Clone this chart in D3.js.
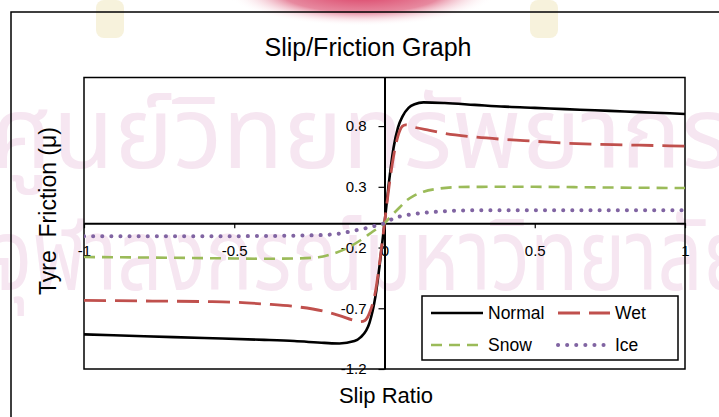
<!DOCTYPE html>
<html>
<head>
<meta charset="utf-8">
<script src="https://cdn.jsdelivr.net/npm/d3@7"></script>
<style>
  body { margin: 0; background: #fff; }
  text { font-family: "Liberation Sans", Arial, sans-serif; }
</style>
</head>
<body>
<div id="chart"></div>
<script>
// series data (slip ratio -> friction coefficient)
const normalSlip = [-1, -0.8, -0.6, -0.4, -0.3, -0.2, -0.15, -0.1, -0.08, -0.05, -0.03, -0.015, 0,
  0.015, 0.03, 0.045, 0.06, 0.08, 0.1, 0.13, 0.2, 0.3, 0.4, 0.5, 0.6, 0.7, 0.8, 0.9, 1];
const normalMu = [-0.915, -0.93, -0.945, -0.96, -0.97, -0.985, -0.99, -0.97, -0.94, -0.82, -0.6, -0.32, 0,
  0.34, 0.62, 0.79, 0.88, 0.95, 0.98, 0.995, 0.99, 0.975, 0.96, 0.95, 0.94, 0.93, 0.92, 0.91, 0.9];

const wetSlip = [-1, -0.8, -0.6, -0.5, -0.4, -0.3, -0.2, -0.15, -0.1, -0.08, -0.065, -0.05, -0.03, -0.015, 0,
  0.015, 0.03, 0.045, 0.06, 0.07, 0.1, 0.15, 0.2, 0.3, 0.4, 0.5, 0.6, 0.7, 0.8, 0.9, 1];
const wetMu = [-0.635, -0.64, -0.645, -0.65, -0.665, -0.685, -0.725, -0.76, -0.8, -0.81, -0.8, -0.74, -0.56, -0.3, 0,
  0.3, 0.55, 0.72, 0.8, 0.81, 0.79, 0.765, 0.74, 0.71, 0.69, 0.675, 0.66, 0.65, 0.645, 0.64, 0.635];

const snowSlip = [-1, -0.8, -0.6, -0.5, -0.4, -0.3, -0.22, -0.17, -0.12, -0.08, -0.04, 0,
  0.03, 0.05, 0.075, 0.1, 0.13, 0.18, 0.25, 0.35, 0.5, 0.7, 1];
const snowMu = [-0.278, -0.282, -0.287, -0.29, -0.292, -0.29, -0.28, -0.25, -0.2, -0.14, -0.07, 0,
  0.08, 0.13, 0.19, 0.23, 0.26, 0.285, 0.298, 0.3, 0.3, 0.295, 0.29];

const iceSlip = [-1, -0.6, -0.4, -0.25, -0.19, -0.15, -0.1, -0.06, -0.03, 0,
  0.03, 0.07, 0.13, 0.19, 0.25, 0.4, 0.7, 1];
const iceMu = [-0.107, -0.107, -0.105, -0.1, -0.095, -0.085, -0.06, -0.04, -0.02, 0,
  0.04, 0.065, 0.085, 0.098, 0.105, 0.108, 0.108, 0.107];

const seriesNames = ["Normal", "Wet", "Snow", "Ice"];
const xTicks = [-1, -0.5, 0, 0.5, 1];
const yTicks = [-1.2, -0.7, -0.2, 0.3, 0.8];

const W = 719, H = 417;
const svg = d3.select("#chart").append("svg")
  .attr("width", W)
  .attr("height", H);

svg.append("rect").attr("width", W).attr("height", H).attr("fill", "#fff");

// scanned page background: emblem at the top and a faint watermark
const defs = svg.append("defs");
const grad = defs.append("radialGradient").attr("id", "emblem");
grad.append("stop").attr("offset", "0%").attr("stop-color", "#d9385f");
grad.append("stop").attr("offset", "60%").attr("stop-color", "#e7899f");
grad.append("stop").attr("offset", "100%").attr("stop-color", "#ffffff").attr("stop-opacity", 0);
svg.append("ellipse")
  .attr("cx", 362).attr("cy", -8).attr("rx", 135).attr("ry", 34)
  .attr("fill", "url(#emblem)");
[[96, 28], [530, 28]].forEach(([px, pw]) => {
  svg.append("rect")
    .attr("x", px).attr("y", 0).attr("width", pw).attr("height", 38)
    .attr("rx", 8).attr("fill", "#f7f2dc");
});

const wm = svg.append("g").attr("fill", "#f6e6f1");
wm.append("text").attr("x", -10).attr("y", 168).attr("font-size", 100)
  .attr("textLength", 740).attr("lengthAdjust", "spacingAndGlyphs")
  .style("font-family", "'Noto Sans Thai', 'Noto Sans', sans-serif")
  .text("ศูนย์วิทยทรัพยากร");
wm.append("text").attr("x", -10).attr("y", 290).attr("font-size", 100)
  .attr("textLength", 760).attr("lengthAdjust", "spacingAndGlyphs")
  .style("font-family", "'Noto Sans Thai', 'Noto Sans', sans-serif")
  .text("จุฬาลงกรณ์มหาวิทยาลัย");

// chart frame
svg.append("rect")
  .attr("x", 11).attr("y", 12)
  .attr("width", 760).attr("height", 460)
  .attr("fill", "none").attr("stroke", "#000").attr("stroke-width", 1.5);

const margin = { top: 77.5, left: 84, right: 34, bottom: 48 };
const width = W - margin.left - margin.right;
const height = H - margin.top - margin.bottom;

const x = d3.scaleLinear().domain([-1, 1]).range([0, width]);
const y = d3.scaleLinear().domain([-1.2, 1.2]).range([height, 0]);

const g = svg.append("g")
  .attr("transform", `translate(${margin.left},${margin.top})`);

// plot area border
g.append("rect")
  .attr("width", width).attr("height", height)
  .attr("fill", "none").attr("stroke", "#000").attr("stroke-width", 1.5);

// axes cross at zero
const xAxis = g.append("g")
  .attr("transform", `translate(0,${y(0)})`)
  .call(d3.axisBottom(x).tickValues(xTicks).tickSize(5).tickSizeOuter(0)
    .tickPadding(17).tickFormat(d => String(d)));
const yAxis = g.append("g")
  .attr("transform", `translate(${x(0)},0)`)
  .call(d3.axisLeft(y).tickValues(yTicks).tickSize(6).tickSizeOuter(0)
    .tickPadding(12).tickFormat(d => String(d)));

[xAxis, yAxis].forEach(a => {
  a.select(".domain").attr("stroke", "#000").attr("stroke-width", 2);
  a.selectAll(".tick line").attr("stroke", "#000").attr("stroke-width", 1.2);
  a.selectAll("text").attr("font-size", 15).attr("fill", "#000")
    .style("font-family", "'Liberation Sans', Arial, sans-serif");
});

// curves
g.append("clipPath").attr("id", "clip")
  .append("rect").attr("width", width).attr("height", height);

const line = d3.line()
  .x(d => x(d[0]))
  .y(d => y(d[1]))
  .curve(d3.curveMonotoneX);

const styles = {
  Normal: { color: "#000000", dash: null, w: 2.6, cap: "butt" },
  Wet:    { color: "#c0504d", dash: "22 9", w: 2.8, cap: "butt" },
  Snow:   { color: "#9bbb59", dash: "11 7", w: 2.6, cap: "butt" },
  Ice:    { color: "#8064a2", dash: "0.1 9", w: 4, cap: "round" }
};

const seriesData = {
  Normal: d3.zip(normalSlip, normalMu),
  Wet: d3.zip(wetSlip, wetMu),
  Snow: d3.zip(snowSlip, snowMu),
  Ice: d3.zip(iceSlip, iceMu)
};

seriesNames.forEach(name => {
  const s = styles[name];
  g.append("path")
    .datum(seriesData[name])
    .attr("clip-path", "url(#clip)")
    .attr("fill", "none")
    .attr("stroke", s.color)
    .attr("stroke-width", s.w)
    .attr("stroke-linecap", s.cap)
    .attr("stroke-dasharray", s.dash)
    .attr("d", line);
});

// legend
const legend = svg.append("g");
legend.append("rect")
  .attr("x", 422).attr("y", 296)
  .attr("width", 256).attr("height", 64)
  .attr("fill", "#fff").attr("stroke", "#000").attr("stroke-width", 1.5);

const legendPos = [
  { name: "Normal", x: 431, y: 313 },
  { name: "Wet", x: 558, y: 313 },
  { name: "Snow", x: 431, y: 345 },
  { name: "Ice", x: 558, y: 345 }
];
legendPos.forEach(p => {
  const s = styles[p.name];
  legend.append("line")
    .attr("x1", p.x).attr("x2", p.name === "Ice" ? p.x + 48 : p.x + 52)
    .attr("y1", p.y).attr("y2", p.y)
    .attr("stroke", s.color)
    .attr("stroke-width", s.w)
    .attr("stroke-linecap", s.cap)
    .attr("stroke-dasharray", s.dash);
  legend.append("text")
    .attr("x", p.x + 57).attr("y", p.y)
    .attr("dy", "0.35em")
    .attr("font-size", 17.5)
    .text(p.name);
});

// titles
svg.append("text")
  .attr("x", 368).attr("y", 56)
  .attr("text-anchor", "middle")
  .attr("font-size", 25)
  .text("Slip/Friction Graph");

svg.append("text")
  .attr("x", 386).attr("y", 403)
  .attr("text-anchor", "middle")
  .attr("font-size", 22)
  .text("Slip Ratio");

svg.append("text")
  .attr("transform", "translate(56,211) rotate(-90)")
  .attr("text-anchor", "middle")
  .attr("font-size", 23)
  .attr("xml:space", "preserve")
  .text("Tyre  Friction (μ)");
</script>
</body>
</html>
